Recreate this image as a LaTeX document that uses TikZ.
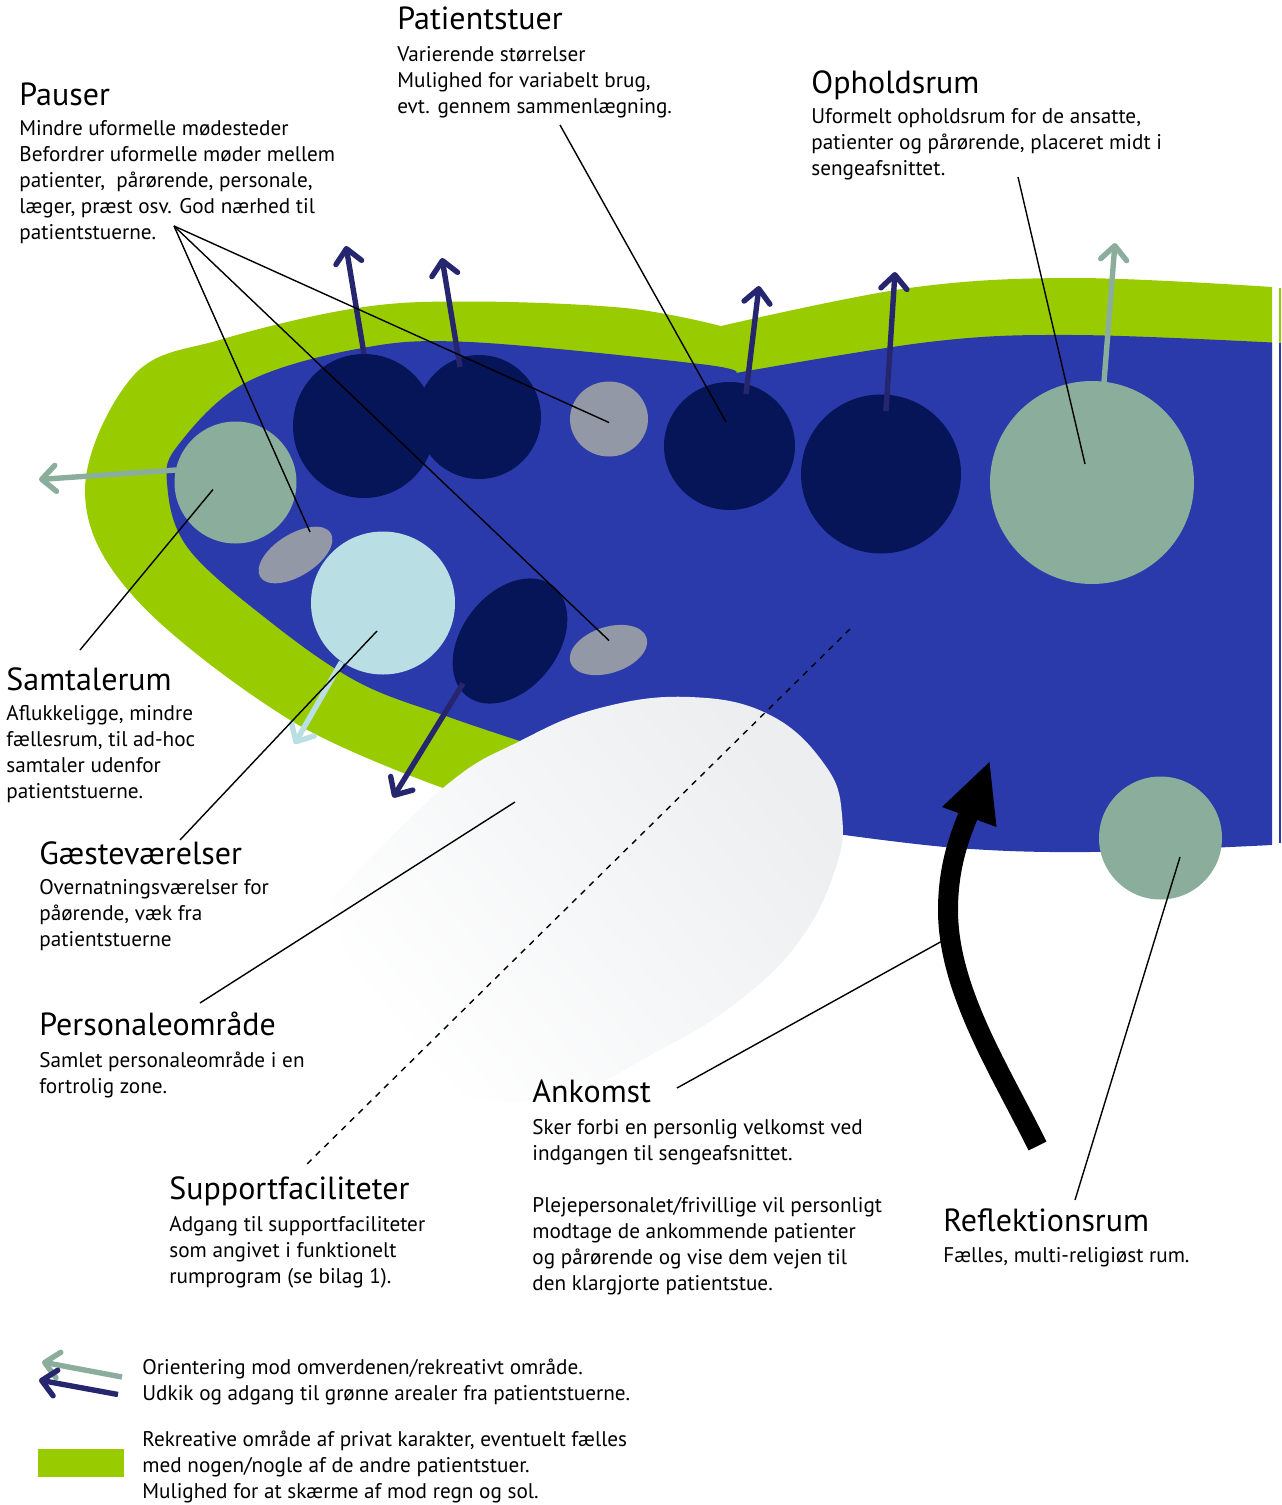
\documentclass[tikz,border=0pt]{standalone}
\usepackage{fontspec}
\setmainfont{PT Sans}
\usepackage{xcolor}
\usetikzlibrary{arrows.meta}
\usetikzlibrary{shapes.geometric}
\definecolor{grn}{HTML}{99CC00}
\definecolor{blu}{HTML}{2B3AAB}
\definecolor{navy}{HTML}{051557}
\definecolor{arrnavy}{HTML}{26266F}
\definecolor{sage}{HTML}{8AAD9C}
\definecolor{lblue}{HTML}{B9DFE4}
\definecolor{gry}{HTML}{9298A6}
\definecolor{pale}{HTML}{ECEEF0}
\newcommand{\headfont}{\fontsize{16}{19}\selectfont}

\begin{document}
\begin{tikzpicture}[x=0.5pt,y=-0.5pt]
\tikzstyle{room}=[ellipse,inner sep=0,outer sep=0]
\tikzstyle{txt}=[font=\fontsize{10.6}{13}\selectfont,align=left,anchor=north west,inner sep=0]
\tikzstyle{head}=[font=\headfont,anchor=north west,inner sep=0]
\tikzstyle{leader}=[line width=0.7pt,black]
\tikzstyle{outward}=[line width=2.7pt,arrows={-{Straight Barb[length=7pt,width=13pt,round]}}]
\useasboundingbox (0,0) rectangle (1281,1505);

% green band and floor
\fill[grn] plot[smooth,tension=0.6] coordinates {(1272,287) (1074,278) (909,288) (721,326)}
 -- plot[smooth,tension=0.6] coordinates {(721,326) (625,308) (469,301.5) (357,308) (223,339) (134,375) (85,490) (134,597) (290,720) (443,788)}
 -- (700,800) -- (1272,500) -- cycle;
\fill[blu] plot[smooth,tension=0.6] coordinates {(1272,342.5) (1074,335) (933,341.5) (736,373)}
 -- plot[smooth,tension=0.6] coordinates {(736,373) (700,364) (469,342) (357,349) (245,383) (179,444) (167,482.5) (187.5,547.5) (268,620) (357,681.5) (446,716) (520,741)}
 -- (830,833) -- plot[smooth,tension=0.6] coordinates {(830,833) (957,848) (1090,852) (1272,845)} -- cycle;
\fill[grn] (1279,288) rectangle (1281,343);
\fill[blu] (1279,343) rectangle (1281,843);
\shade[top color=pale,bottom color=white,shading angle=-50] plot[smooth,tension=0.7] coordinates {(330,900) (443,788) (520,741) (600,708) (690,697) (770,715) (825,765) (842,815) (835,870) (800,940) (740,1000) (660,1050) (560,1095) (450,1090) (360,1000)} -- cycle;

% rooms
\node[room,fill=sage,minimum width=122pt*0.5,minimum height=122pt*0.5] (samtale) at (235.5,482.5) {};
\node[room,fill=navy,minimum width=71pt,minimum height=72pt] (stuea) at (364,426) {};
\node[room,fill=navy,minimum width=62pt,minimum height=62pt] (stueb) at (479,417) {};
\node[room,fill=gry,minimum width=39pt,minimum height=37.5pt] (pausea) at (609,419) {};
\node[room,fill=navy,minimum width=65.5pt,minimum height=64pt] (stuec) at (729.5,446) {};
\node[room,fill=navy,minimum width=80pt,minimum height=79.5pt] (stued) at (881,474) {};
\node[room,fill=sage,minimum width=102pt,minimum height=101.5pt] (ophold) at (1092,482.5) {};
\node[room,fill=sage,minimum width=61.5pt,minimum height=61.5pt] (reflek) at (1160.5,838) {};
\node[room,fill=lblue,minimum width=72pt,minimum height=71.5pt] (gaest) at (383,603) {};
\node[room,fill=gry,minimum width=41.5pt,minimum height=21pt,rotate=32] (pauseb) at (295.5,555) {};
\node[room,fill=gry,minimum width=40pt,minimum height=23pt,rotate=18] (pausec) at (608.5,650) {};
\node[room,fill=navy,minimum width=70pt,minimum height=48pt,rotate=52] (stuee) at (510,641) {};

% ends of arrows and leaders
\coordinate (a1s) at (364,354); \coordinate (a1t) at (346,246);
\coordinate (a2s) at (460,367); \coordinate (a2t) at (442,258);
\coordinate (a3s) at (746,394); \coordinate (a3t) at (759,286);
\coordinate (a4s) at (886,411); \coordinate (a4t) at (895,272);
\coordinate (a5s) at (1104,382); \coordinate (a5t) at (1115,243);
\coordinate (a6s) at (176,470); \coordinate (a6t) at (39,479.5);
\coordinate (a7s) at (341.5,662); \coordinate (a7t) at (294.5,744);
\coordinate (a8s) at (463,683.5); \coordinate (a8t) at (393,797.5);
\coordinate (la) at (122,1377); \coordinate (lat) at (42,1362);
\coordinate (lb) at (118,1394.5); \coordinate (lbt) at (39,1380);

\draw[outward,arrnavy] (a1s) -- (a1t);
\draw[outward,arrnavy] (a2s) -- (a2t);
\draw[outward,arrnavy] (a3s) -- (a3t);
\draw[outward,arrnavy] (a4s) -- (a4t);
\draw[outward,sage] (a5s) -- (a5t);
\draw[outward,sage] (a6s) -- (a6t);
\draw[outward,lblue] (a7s) -- (a7t);
\draw[outward,arrnavy] (a8s) -- (a8t);
\draw[outward,sage] (la) -- (lat);
\draw[outward,arrnavy] (lb) -- (lbt);

% arrival arrow
\draw[line width=10pt,black] (1037.5,1146) .. controls (1000,1070) and (948,990) .. (948,910) .. controls (948,870) and (958,840) .. (968,816);
\fill[black] (989.5,762) -- (942,807) -- (996.5,827) -- cycle;

% texts
\node[head] (h1) at (397,6) {Patientstuer};
\node[txt] (t1) at (397,46) {Varierende størrelser\\Mulighed for variabelt brug,\\evt. gennem sammenlægning.};
\node[head] (h2) at (19,82) {Pauser};
\node[txt] (t2) at (19,120) {Mindre uformelle mødesteder\\Befordrer uformelle møder mellem\\patienter,\ \ pårørende, personale,\\læger, præst osv. God nærhed til\\patientstuerne.};
\node[head] (h3) at (811,70) {Opholdsrum};
\node[txt] (t3) at (811,108) {Uformelt opholdsrum for de ansatte,\\patienter og pårørende, placeret midt i\\sengeafsnittet.};
\node[head] (h4) at (6,667) {Samtalerum};
\node[txt] (t4) at (6,705) {Aflukkeligge, mindre\\fællesrum, til ad-hoc\\samtaler udenfor\\patientstuerne.};
\node[head] (h5) at (39,841) {Gæsteværelser};
\node[txt] (t5) at (39,879) {Overnatningsværelser for\\påørende, væk fra\\patientstuerne};
\node[head] (h6) at (39,1012) {Personaleområde};
\node[txt] (t6) at (39,1052) {Samlet personaleområde i en\\fortrolig zone.};
\node[head] (h7) at (169,1176) {Supportfaciliteter};
\node[txt] (t7) at (169,1216) {Adgang til supportfaciliteter\\som angivet i funktionelt\\rumprogram (se bilag 1).};
\node[head] (h8) at (532,1079) {Ankomst};
\node[txt] (t8) at (532,1119) {Sker forbi en personlig velkomst ved\\indgangen til sengeafsnittet.\\[13pt]Plejepersonalet/frivillige vil personligt\\modtage de ankommende patienter\\og pårørende og vise dem vejen til\\den klargjorte patientstue.};
\node[head] (h9) at (943,1208) {Reflektionsrum};
\node[txt] (t9) at (943,1247) {Fælles, multi-religiøst rum.};
\node[txt] (t10) at (142,1359) {Orientering mod omverdenen/rekreativt område.\\Udkik og adgang til grønne arealer fra patientstuerne.};
\node[txt] (t11) at (142,1431) {Rekreative område af privat karakter, eventuelt fælles\\med nogen/nogle af de andre patientstuer.\\Mulighed for at skærme af mod regn og sol.};
\fill[grn] (38,1449) rectangle (124,1477);

% leaders
\coordinate (apex) at (174,226);
\coordinate (p1) at (310,532);
\coordinate (p2) at (609,640.5);
\coordinate (p3) at (609,422.5);
\coordinate (s1) at (213,489.5); \coordinate (s2) at (80,650);
\coordinate (g1) at (377,631); \coordinate (g2) at (180,840);
\coordinate (r1) at (560,125); \coordinate (r2) at (726,422);
\coordinate (o1) at (1018,177); \coordinate (o2) at (1085,464);
\coordinate (v1) at (515,802); \coordinate (v2) at (200,1003);
\coordinate (d1) at (850,629); \coordinate (d2) at (307,1164);
\coordinate (k1) at (677,1088); \coordinate (k2) at (944,940);
\coordinate (f1) at (1180,857); \coordinate (f2) at (1075,1200);
\draw[leader] (apex) -- (p1);
\draw[leader] (apex) -- (p2);
\draw[leader] (apex) -- (p3);
\draw[leader] (s1) -- (s2);
\draw[leader] (g1) -- (g2);
\draw[leader] (r1) -- (r2);
\draw[leader] (o1) -- (o2);
\draw[leader] (v1) -- (v2);
\draw[leader,dashed] (d1) -- (d2);
\draw[leader] (k1) -- (k2);
\draw[leader] (f1) -- (f2);
\end{tikzpicture}
\end{document}
